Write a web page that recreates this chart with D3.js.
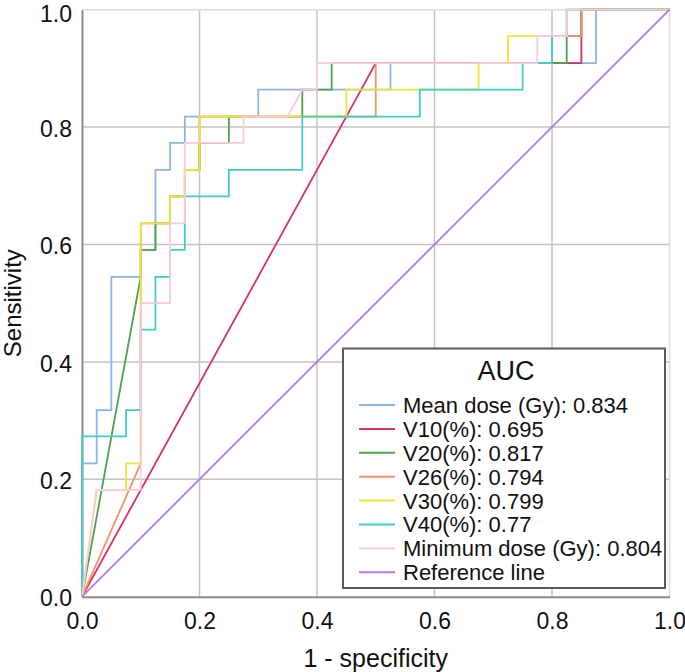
<!DOCTYPE html>
<html>
<head>
<meta charset="utf-8">
<script src="https://cdn.jsdelivr.net/npm/d3@7"></script>
<style>
  html, body { margin: 0; padding: 0; background: #fff; }
  svg { display: block; font-family: "Liberation Sans", Arial, sans-serif; }
</style>
</head>
<body>
<svg id="chart" width="685" height="672"></svg>
<script>
// ---- Data ----
const xTicks = [0, 0.2, 0.4, 0.6, 0.8, 1.0];
const yTicks = [0, 0.2, 0.4, 0.6, 0.8, 1.0];
const legendTitle = "AUC";
const seriesNames = ["Mean dose (Gy): 0.834", "V10(%): 0.695", "V20(%): 0.817", "V26(%): 0.794",
                     "V30(%): 0.799", "V40(%): 0.77", "Minimum dose (Gy): 0.804", "Reference line"];
const seriesColors = ["#8db3e6", "#d8325f", "#4ea24e", "#f5906a", "#e8e83c", "#3fcfc2", "#fdc9de", "#b07be8"];

const meanDose = [[0,0],[0,0.227],[0.025,0.227],[0.025,0.318],[0.05,0.318],[0.05,0.545],[0.1,0.545],[0.1,0.591],[0.125,0.591],[0.125,0.727],[0.15,0.727],[0.15,0.773],[0.175,0.773],[0.175,0.818],[0.3,0.818],[0.3,0.864],[0.525,0.864],[0.525,0.909],[0.875,0.909],[0.875,1],[1,1]];
const v10 = [[0,0],[0.5,0.909],[0.85,0.909],[0.85,1],[1,1]];
const v20 = [[0,0],[0.1,0.545],[0.1,0.591],[0.125,0.591],[0.125,0.636],[0.15,0.636],[0.15,0.682],[0.175,0.682],[0.175,0.727],[0.2,0.727],[0.2,0.773],[0.25,0.773],[0.25,0.818],[0.375,0.818],[0.375,0.864],[0.425,0.864],[0.425,0.909],[0.825,0.909],[0.825,0.955],[0.85,0.955],[0.85,1],[1,1]];
const v26 = [[0,0],[0.1,0.227],[0.1,0.636],[0.15,0.636],[0.15,0.682],[0.175,0.682],[0.175,0.727],[0.2,0.727],[0.2,0.818],[0.5,0.818],[0.5,0.909],[0.8,0.909],[0.8,0.955],[0.85,0.955],[0.85,1],[1,1]];
const v30 = [[0,0],[0.025,0.182],[0.075,0.182],[0.075,0.227],[0.1,0.227],[0.1,0.636],[0.15,0.636],[0.15,0.682],[0.175,0.682],[0.175,0.727],[0.2,0.727],[0.2,0.818],[0.45,0.818],[0.45,0.864],[0.675,0.864],[0.675,0.909],[0.725,0.909],[0.725,0.955],[0.825,0.955],[0.825,1],[1,1]];
const v40 = [[0,0],[0,0.273],[0.075,0.273],[0.075,0.318],[0.1,0.318],[0.1,0.455],[0.125,0.455],[0.125,0.545],[0.15,0.545],[0.15,0.591],[0.175,0.591],[0.175,0.682],[0.25,0.682],[0.25,0.727],[0.375,0.727],[0.375,0.818],[0.575,0.818],[0.575,0.864],[0.75,0.864],[0.75,0.909],[0.8,0.909],[0.8,0.955],[0.825,0.955],[0.825,1],[1,1]];
const minDose = [[0,0],[0.025,0.182],[0.1,0.182],[0.1,0.5],[0.15,0.5],[0.15,0.636],[0.175,0.636],[0.175,0.773],[0.275,0.773],[0.275,0.818],[0.35,0.818],[0.375,0.864],[0.4,0.864],[0.4,0.909],[0.775,0.909],[0.775,0.955],[0.825,0.955],[0.825,1],[1,1]];
const referenceLine = [[0,0],[1,1]];

const allSeries = [meanDose, v10, v20, v26, v30, v40, minDose, referenceLine];

// ---- Layout ----
const svg = d3.select("#chart");
const mLeft = 82, mRight = 669.5, mTop = 9.7, mBottom = 596.7;
const x = d3.scaleLinear().domain([0, 1]).range([mLeft, mRight]);
const y = d3.scaleLinear().domain([0, 1]).range([mBottom, mTop]);

// grid
const grid = svg.append("g");
grid.selectAll("line.gx").data(xTicks.filter(d => d > 0)).enter().append("line")
  .attr("x1", d => x(d)).attr("x2", d => x(d)).attr("y1", y(0)).attr("y2", y(1))
  .attr("stroke", d => d === 1 ? "#dcdcdc" : "#c4c4c4").attr("stroke-width", 1.5);
grid.selectAll("line.gy").data(yTicks.filter(d => d > 0)).enter().append("line")
  .attr("x1", x(0)).attr("x2", x(1)).attr("y1", d => y(d)).attr("y2", d => y(d))
  .attr("stroke", d => d === 1 ? "#dcdcdc" : "#c4c4c4").attr("stroke-width", 1.5);

// axes
const xAxis = d3.axisBottom(x).tickValues(xTicks).tickFormat(d3.format(".1f")).tickSize(0).tickPadding(16);
const yAxis = d3.axisLeft(y).tickValues(yTicks).tickFormat(d3.format(".1f")).tickSize(0).tickPadding(10);
const gx = svg.append("g").attr("transform", `translate(0,${y(0)})`).call(xAxis);
const gy = svg.append("g").attr("transform", `translate(${x(0)},0)`).call(yAxis);
[gx, gy].forEach(g => {
  g.select(".domain").attr("stroke", "#8a8a8a").attr("stroke-width", 2);
  g.selectAll("text").attr("font-size", 23).attr("fill", "#111").attr("font-family", "'Liberation Sans', Arial, sans-serif");
});
gx.selectAll("text").attr("dy", "0.71em");
gy.selectAll("text").attr("dy", d => d === 1 ? "0.5em" : "0.4em");

// curves
const line = d3.line().x(d => x(d[0])).y(d => y(d[1]));
const curves = svg.append("g");
allSeries.forEach((s, i) => {
  curves.append("path").datum(s).attr("d", line)
    .attr("fill", "none").attr("stroke", seriesColors[i]).attr("stroke-width", 1.8)
    .attr("stroke-linejoin", "miter");
});

// axis titles
svg.append("text").attr("x", (mLeft + mRight) / 2).attr("y", 667)
  .attr("text-anchor", "middle").attr("font-size", 25).attr("fill", "#111").text("1 - specificity");
svg.append("text").attr("transform", `translate(21,${(mTop + mBottom) / 2}) rotate(-90)`)
  .attr("text-anchor", "middle").attr("font-size", 24).attr("fill", "#111").text("Sensitivity");

// legend
const lg = svg.append("g");
lg.append("rect").attr("x", 343).attr("y", 348.5).attr("width", 322).attr("height", 239.5)
  .attr("fill", "#fff").attr("stroke", "#5a5a5a").attr("stroke-width", 2);
lg.append("text").attr("x", 506).attr("y", 380).attr("text-anchor", "middle")
  .attr("font-size", 27).attr("fill", "#111").text(legendTitle);
seriesNames.forEach((name, i) => {
  const cy = 405 + i * 23.9;
  lg.append("line").attr("x1", 359).attr("x2", 395).attr("y1", cy).attr("y2", cy)
    .attr("stroke", seriesColors[i]).attr("stroke-width", 2);
  lg.append("text").attr("x", 403).attr("y", cy).attr("dy", "0.36em")
    .attr("font-size", 22).attr("fill", "#111").text(name);
});
</script>
</body>
</html>
